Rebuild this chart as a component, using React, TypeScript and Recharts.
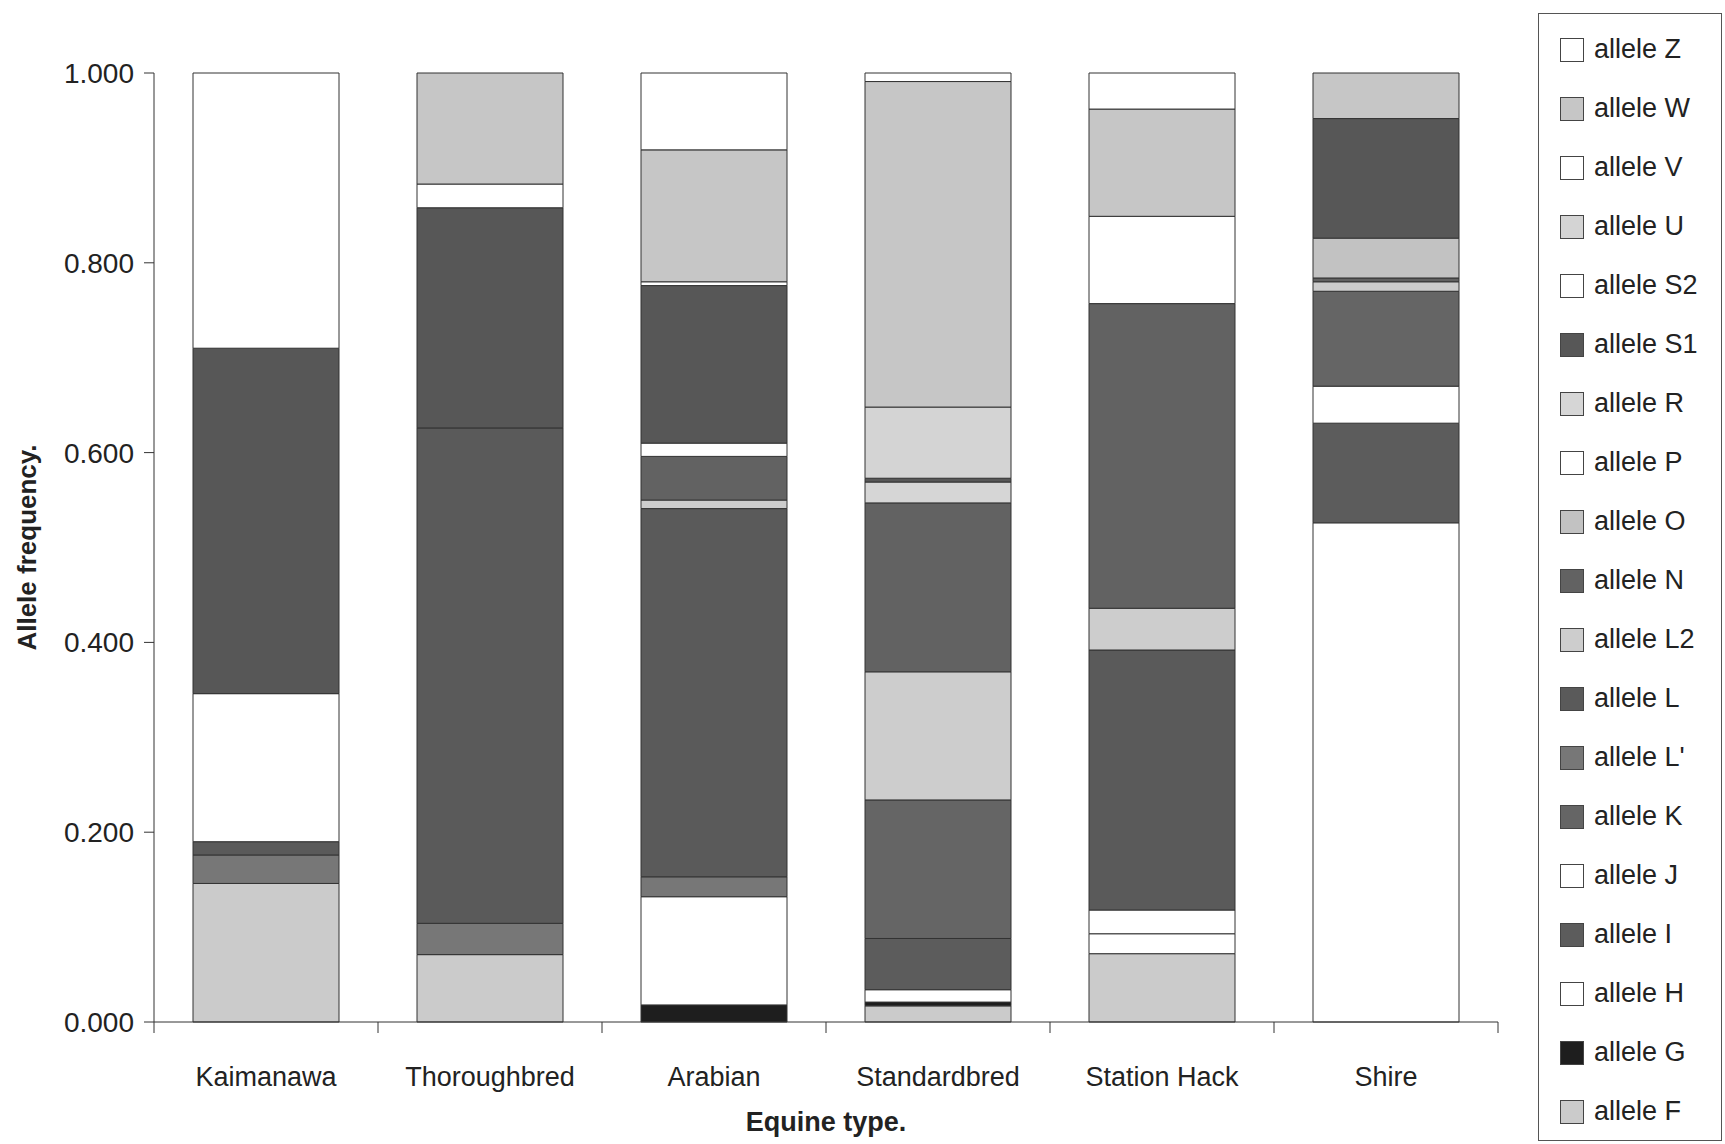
import { BarChart, Bar, XAxis, YAxis, Legend, Label } from "recharts";

// equine types along the x axis
const categories = ["Kaimanawa", "Thoroughbred", "Arabian", "Standardbred", "Station Hack", "Shire"];

// allele frequencies per equine type (same order as categories)
const alleleF = [0.146, 0.071, 0, 0.017, 0.072, 0];
const alleleG = [0, 0, 0.018, 0.004, 0, 0];
const alleleH = [0, 0, 0.114, 0.013, 0.021, 0.526];
const alleleI = [0, 0, 0, 0.054, 0, 0.105];
const alleleJ = [0, 0, 0, 0, 0.025, 0.039];
const alleleK = [0, 0, 0, 0.146, 0, 0.1];
const alleleLp = [0.03, 0.033, 0.021, 0, 0, 0];
const alleleL = [0.014, 0.522, 0.388, 0, 0.274, 0];
const alleleL2 = [0, 0, 0.009, 0.135, 0.044, 0.01];
const alleleN = [0, 0, 0.046, 0.178, 0.321, 0.004];
const alleleO = [0, 0, 0, 0, 0, 0.042];
const alleleP = [0.156, 0, 0.014, 0, 0, 0];
const alleleR = [0, 0, 0, 0.022, 0, 0];
const alleleS1 = [0.364, 0.232, 0.166, 0.004, 0, 0.126];
const alleleS2 = [0, 0.025, 0.004, 0, 0, 0];
const alleleU = [0, 0, 0, 0.075, 0, 0];
const alleleV = [0, 0, 0, 0, 0.092, 0];
const alleleW = [0, 0.117, 0.139, 0.343, 0.113, 0.048];
const alleleZ = [0.29, 0, 0.081, 0.009, 0.038, 0];

const yTicks = [0, 0.2, 0.4, 0.6, 0.8, 1];

// stacking order, bottom first
const alleles = [
  { key: "F", label: "F", values: alleleF, fill: "#cbcbcb" },
  { key: "G", label: "G", values: alleleG, fill: "#1e1e1e" },
  { key: "H", label: "H", values: alleleH, fill: "#ffffff" },
  { key: "I", label: "I", values: alleleI, fill: "#5c5c5c" },
  { key: "J", label: "J", values: alleleJ, fill: "#ffffff" },
  { key: "K", label: "K", values: alleleK, fill: "#656565" },
  { key: "Lp", label: "L'", values: alleleLp, fill: "#777777" },
  { key: "L", label: "L", values: alleleL, fill: "#5a5a5a" },
  { key: "L2", label: "L2", values: alleleL2, fill: "#cdcdcd" },
  { key: "N", label: "N", values: alleleN, fill: "#626262" },
  { key: "O", label: "O", values: alleleO, fill: "#c2c2c2" },
  { key: "P", label: "P", values: alleleP, fill: "#ffffff" },
  { key: "R", label: "R", values: alleleR, fill: "#d6d6d6" },
  { key: "S1", label: "S1", values: alleleS1, fill: "#575757" },
  { key: "S2", label: "S2", values: alleleS2, fill: "#ffffff" },
  { key: "U", label: "U", values: alleleU, fill: "#d4d4d4" },
  { key: "V", label: "V", values: alleleV, fill: "#ffffff" },
  { key: "W", label: "W", values: alleleW, fill: "#c6c6c6" },
  { key: "Z", label: "Z", values: alleleZ, fill: "#ffffff" },
];

const data = categories.map((name, i) => {
  const row: Record<string, number | string> = { name };
  alleles.forEach((a) => (row[a.key] = a.values[i]));
  return row;
});

const FONT = "'Liberation Sans', Arial, sans-serif";
const INK = "#222";

const W = 1725;
const H = 1144;
const PLOT_LEFT = 154;
const PLOT_RIGHT = 1498;
const PLOT_TOP = 73;
const PLOT_BOTTOM = 1022;
const BAND = (PLOT_RIGHT - PLOT_LEFT) / categories.length;

function CategoryTick(props: any) {
  const { x, payload, index } = props;
  return (
    <g>
      <line x1={x - BAND / 2} x2={x - BAND / 2} y1={PLOT_BOTTOM} y2={PLOT_BOTTOM + 11} stroke="#333" />
      {index === categories.length - 1 && (
        <line x1={x + BAND / 2} x2={x + BAND / 2} y1={PLOT_BOTTOM} y2={PLOT_BOTTOM + 11} stroke="#333" />
      )}
      <text x={x} y={PLOT_BOTTOM + 64} textAnchor="middle" fontSize={27} fontFamily={FONT} fill={INK}>
        {payload.value}
      </text>
    </g>
  );
}

function AlleleLegend() {
  return (
    <div
      style={{
        width: 184,
        height: 1128,
        boxSizing: "border-box",
        border: "1px solid #555",
        paddingTop: 6,
        background: "#fff",
        fontFamily: FONT,
      }}
    >
      {[...alleles].reverse().map((a) => (
        <div key={a.key} style={{ height: 59, display: "flex", alignItems: "center" }}>
          <span
            style={{
              width: 24,
              height: 24,
              marginLeft: 21,
              boxSizing: "border-box",
              border: "1px solid #444",
              background: a.fill,
              flex: "none",
            }}
          />
          <span style={{ marginLeft: 10, fontSize: 27, color: INK, whiteSpace: "nowrap" }}>allele {a.label}</span>
        </div>
      ))}
    </div>
  );
}

export default function App() {
  return (
    <div style={{ position: "absolute", left: 0, top: 0, width: W, height: H, background: "#fff" }}>
      <BarChart
        width={W}
        height={H}
        data={data}
        margin={{ top: PLOT_TOP, right: W - PLOT_RIGHT, bottom: 0, left: 0 }}
        barSize={146}
      >
        <XAxis
          dataKey="name"
          height={H - PLOT_BOTTOM}
          interval={0}
          tickLine={false}
          axisLine={{ stroke: "#333" }}
          tick={(p: any) => <CategoryTick {...p} />}
        >
          <Label
            content={() => (
              <text
                x={(PLOT_LEFT + PLOT_RIGHT) / 2}
                y={H - 13}
                textAnchor="middle"
                fontSize={27}
                fontWeight="bold"
                fontFamily={FONT}
                fill={INK}
              >
                Equine type.
              </text>
            )}
          />
        </XAxis>
        <YAxis
          width={PLOT_LEFT}
          domain={[0, 1]}
          ticks={yTicks}
          interval={0}
          tickFormatter={(v: number) => v.toFixed(3)}
          tickSize={10}
          tickMargin={10}
          tickLine={{ stroke: "#333" }}
          axisLine={{ stroke: "#333" }}
          tick={{ fontSize: 28, fontFamily: FONT, fill: INK }}
        >
          <Label
            content={() => (
              <text
                x={27}
                y={(PLOT_TOP + PLOT_BOTTOM) / 2}
                transform={`rotate(-90 27 ${(PLOT_TOP + PLOT_BOTTOM) / 2})`}
                textAnchor="middle"
                dominantBaseline="central"
                fontSize={26}
                fontWeight="bold"
                fontFamily={FONT}
                fill={INK}
              >
                Allele frequency.
              </text>
            )}
          />
        </YAxis>
        <Legend
          layout="vertical"
          align="center"
          verticalAlign="middle"
          wrapperStyle={{ left: 1538, top: 13, width: 184, height: 1128 }}
          content={() => <AlleleLegend />}
        />
        {alleles.map((a) => (
          <Bar
            key={a.key}
            dataKey={a.key}
            stackId="freq"
            fill={a.fill}
            stroke="#333"
            strokeWidth={1}
            isAnimationActive={false}
          />
        ))}
      </BarChart>
    </div>
  );
}
